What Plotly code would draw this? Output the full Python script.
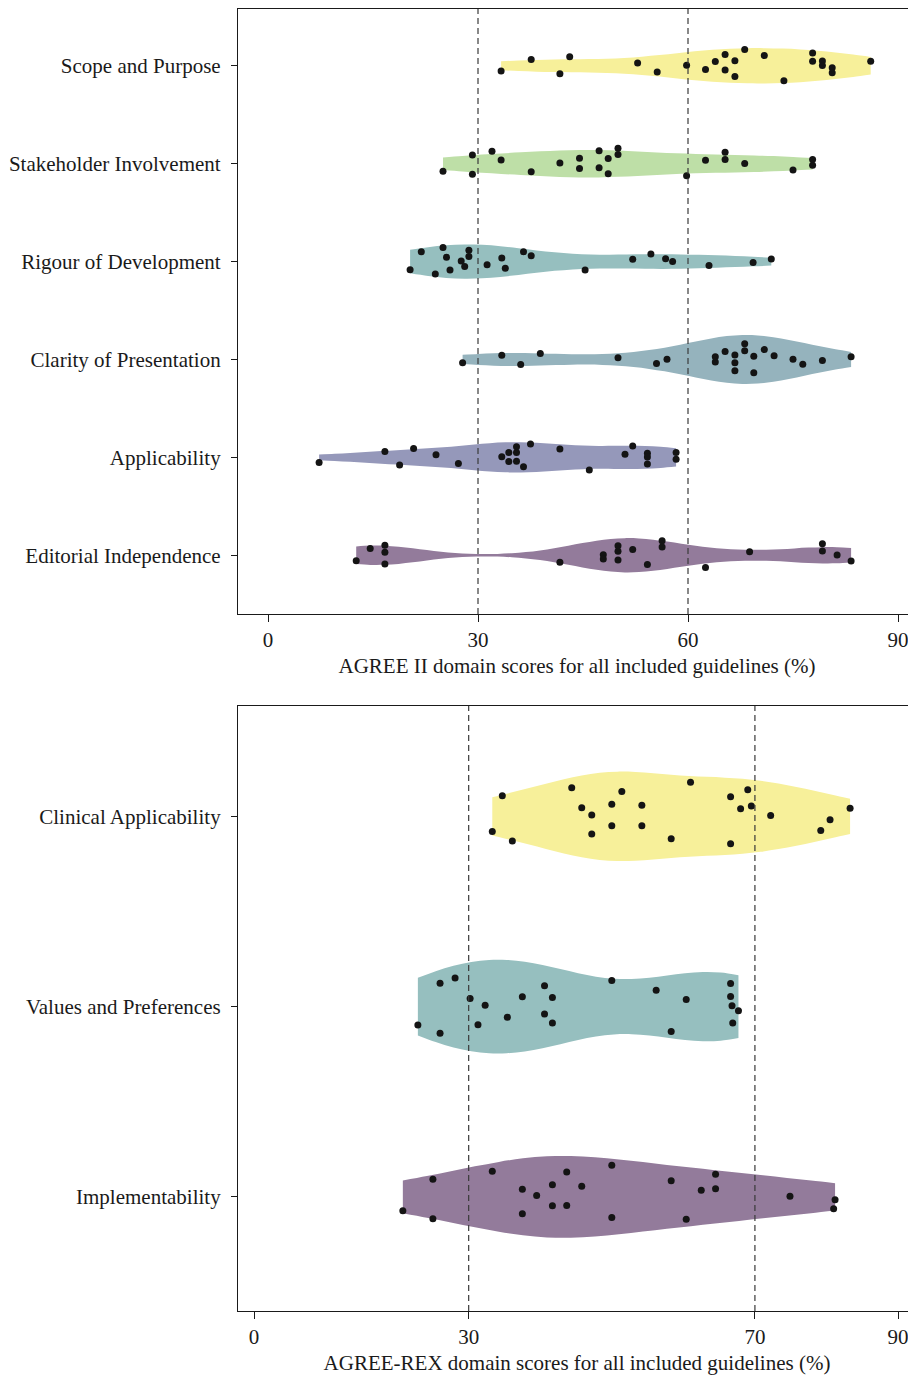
import numpy as np
import plotly.graph_objects as go

# ---------------- data ----------------
agree_ii_domains = ["Scope and Purpose", "Stakeholder Involvement", "Rigour of Development",
                    "Clarity of Presentation", "Applicability", "Editorial Independence"]
scope_purpose = [33.3, 37.6, 41.7, 43.1, 52.8, 55.6, 59.8, 62.5, 63.9, 65.3, 65.3, 66.7, 66.7,
                 68.1, 70.9, 73.7, 77.8, 77.8, 79.2, 79.2, 80.6, 80.6, 86.1]
stakeholder_involvement = [25.0, 29.2, 29.2, 32.0, 33.3, 37.6, 41.7, 44.5, 44.5, 47.3, 47.3, 48.6,
                           48.6, 50.0, 50.0, 59.8, 62.5, 65.3, 65.3, 68.1, 75.0, 77.8, 77.8]
rigour_development = [20.3, 21.9, 23.9, 25.0, 25.5, 26.0, 27.6, 28.1, 28.7, 28.7, 31.3, 33.4,
                      33.9, 36.5, 37.6, 45.3, 52.1, 54.7, 56.8, 57.8, 63.0, 69.3, 71.9]
clarity_presentation = [27.8, 33.4, 36.1, 38.9, 50.0, 55.5, 57.0, 63.9, 63.9, 65.3, 66.7, 66.7,
                        66.7, 68.1, 68.1, 69.4, 69.4, 70.9, 72.3, 75.0, 76.4, 79.2, 83.3]
applicability = [7.3, 16.7, 18.8, 20.8, 24.0, 27.2, 33.4, 34.4, 34.4, 35.5, 35.5, 35.5, 36.5,
                 37.5, 41.7, 45.9, 51.0, 52.1, 54.2, 54.2, 54.2, 58.3, 58.3]
editorial_independence = [12.6, 14.6, 16.7, 16.7, 16.7, 41.7, 47.9, 47.9, 50.0, 50.0, 50.0, 52.1,
                          54.2, 56.3, 56.3, 62.5, 68.8, 79.2, 79.2, 81.3, 83.3]

agree_rex_domains = ["Clinical Applicability", "Values and Preferences", "Implementability"]
clinical_applicability = [33.3, 34.7, 36.1, 44.4, 45.8, 47.2, 47.2, 50.0, 50.0, 51.4, 54.2, 54.2,
                          58.3, 61.0, 66.6, 66.6, 68.0, 69.0, 69.5, 72.2, 79.2, 80.5, 83.3]
values_preferences = [22.9, 26.0, 26.0, 28.1, 30.2, 31.3, 32.3, 35.4, 37.5, 40.6, 40.6, 41.7,
                      41.7, 50.0, 56.2, 58.3, 60.4, 66.6, 66.8, 66.9, 67.7, 66.6]
implementability = [20.8, 25.0, 25.0, 33.3, 37.5, 37.5, 39.5, 41.7, 41.7, 43.7, 43.7, 45.8, 50.0,
                    50.0, 58.3, 60.4, 62.5, 64.5, 64.5, 74.9, 81.0, 81.2]

agree_ii_values = [scope_purpose, stakeholder_involvement, rigour_development,
                   clarity_presentation, applicability, editorial_independence]
agree_rex_values = [clinical_applicability, values_preferences, implementability]

agree_ii_ticks = [0, 30, 60, 90]
agree_rex_ticks = [0, 30, 70, 90]
agree_ii_thresholds = [30, 60]
agree_rex_thresholds = [30, 70]

# ---------------- styles ----------------
ii_colors = ["#f7f09a", "#bedfa7", "#96bfbf", "#95b3bd", "#9598ba", "#937b9b"]
ii_widths = [0.36, 0.28, 0.35, 0.50, 0.31, 0.35]
ii_bw_scale = [1.0, 1.0, 0.9, 0.85, 0.9, 0.5]
rex_colors = ["#f7f09a", "#96bfbf", "#937b9b"]
rex_widths = [0.47, 0.49, 0.43]
rex_bw_scale = [1.0, 0.9, 1.1]

FONT = "Liberation Serif"
OFF = 8                      # page body margin
W, H = 916 - OFF, 1375 - OFF


def scott_bw(v):
    a = np.asarray(v, dtype=float)
    return float(a.std(ddof=1) * len(a) ** (-0.2))


fig = go.Figure()


def add_panel(cats, values, colors, widths, bws, xa, ya, pts_width):
    for cat, vals, col, w, b in zip(cats, values, colors, widths, bws):
        fig.add_trace(go.Violin(
            x=vals, y=[cat] * len(vals), orientation="h", xaxis=xa, yaxis=ya,
            fillcolor=col, line=dict(width=0, color=col), width=w,
            spanmode="hard", bandwidth=scott_bw(vals) * b, scalemode="width",
            points=False, showlegend=False, hoverinfo="skip",
            box_visible=False, meanline_visible=False, opacity=1))
    for cat, vals in zip(cats, values):
        fig.add_trace(go.Violin(
            x=vals, y=[cat] * len(vals), orientation="h", xaxis=xa, yaxis=ya,
            fillcolor="rgba(0,0,0,0)", line=dict(width=0, color="rgba(0,0,0,0)"),
            width=pts_width, spanmode="hard", points="all", pointpos=0, jitter=0.95,
            marker=dict(color="#141414", size=7), showlegend=False,
            box_visible=False, meanline_visible=False))


add_panel(agree_ii_domains, agree_ii_values, ii_colors, ii_widths, ii_bw_scale, "x", "y", 0.38)
add_panel(agree_rex_domains, agree_rex_values, rex_colors, rex_widths, rex_bw_scale, "x2", "y2", 0.42)

shapes = []
for t in agree_ii_thresholds:
    shapes.append(dict(type="line", xref="x", yref="y domain", x0=t, x1=t, y0=0, y1=1,
                       line=dict(color="#3a3a3a", width=1.2, dash="6px,4px"), layer="above"))
for t in agree_rex_thresholds:
    shapes.append(dict(type="line", xref="x2", yref="y2 domain", x0=t, x1=t, y0=0, y1=1,
                       line=dict(color="#3a3a3a", width=1.2, dash="6px,4px"), layer="above"))

tickfont = dict(family=FONT, size=21, color="#1a1a1a")
common_x = dict(showgrid=False, zeroline=False, showline=True, linecolor="#1a1a1a", linewidth=1.3,
                mirror=True, ticks="outside", ticklen=7, tickwidth=1.2, tickcolor="#1a1a1a",
                tickfont=tickfont, automargin=False)
common_y = dict(showgrid=False, zeroline=False, showline=True, linecolor="#1a1a1a", linewidth=1.3,
                ticks="outside", ticklen=6, tickwidth=1.2, tickcolor="#1a1a1a",
                tickfont=tickfont, automargin=False, type="category", ticklabelstandoff=6)

x0 = (238 - OFF) / W


def ydom(top_px, bot_px):
    return [1 - (bot_px - OFF) / H, 1 - (top_px - OFF) / H]


fig.update_layout(
    width=W, height=H, margin=dict(l=0, r=0, t=0, b=0),
    paper_bgcolor="white", plot_bgcolor="white", violinmode="overlay",
    font=dict(family=FONT, color="#1a1a1a"),
    xaxis=dict(common_x, domain=[x0, 1], anchor="y", range=[-30 / 7, 648 / 7],
               tickvals=agree_ii_ticks,
               title=dict(text="AGREE II domain scores for all included guidelines (%)",
                          font=dict(family=FONT, size=21, color="#1a1a1a"), standoff=6)),
    yaxis=dict(common_y, domain=ydom(9, 614), anchor="x",
               categoryorder="array", categoryarray=agree_ii_domains, range=[5.6, -0.58]),
    xaxis2=dict(common_x, domain=[x0, 1], anchor="y2", range=[-16 / 7.156, 662 / 7.156],
                tickvals=agree_rex_ticks,
                title=dict(text="AGREE-REX domain scores for all included guidelines (%)",
                           font=dict(family=FONT, size=21, color="#1a1a1a"), standoff=6)),
    yaxis2=dict(common_y, domain=ydom(706, 1311), anchor="x2",
                categoryorder="array", categoryarray=agree_rex_domains, range=[2.6, -0.58]),
    shapes=shapes,
)

fig.write_html("out.html")
